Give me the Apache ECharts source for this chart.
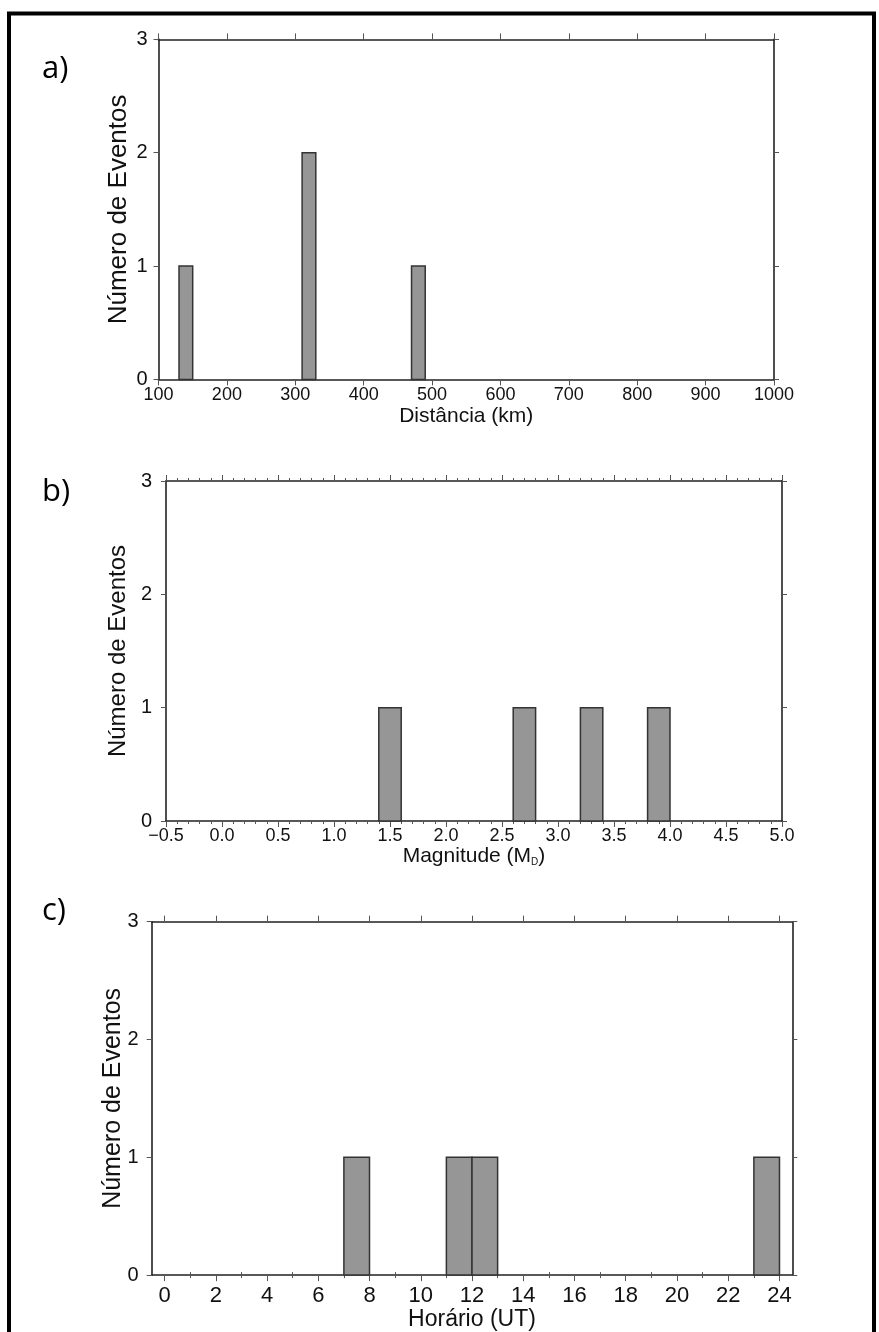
<!DOCTYPE html>
<html>
<head>
<meta charset="utf-8">
<title>Histogramas</title>
<script src="https://cdn.jsdelivr.net/npm/echarts/dist/echarts.min.js"></script>
<style>
  html, body { margin: 0; padding: 0; background: #fff; }
  #chart { width: 879px; height: 1332px; }
</style>
</head>
<body>
<div id="chart"></div>
<script>
// a) distancia
var distLeft = [130, 310, 470];
var distRight = [150, 330, 490];
var distCount = [1, 2, 1];
// b) magnitude
var magLeft = [1.4, 2.6, 3.2, 3.8];
var magRight = [1.6, 2.8, 3.4, 4.0];
var magCount = [1, 1, 1, 1];
// c) horario
var hourLeft = [7, 11, 12, 23];
var hourRight = [8, 12, 13, 24];
var hourCount = [1, 1, 1, 1];
var hourTicks = [0, 2, 4, 6, 8, 10, 12, 14, 16, 18, 20, 22, 24];
var hourMinorTicks = [1, 3, 5, 7, 9, 11, 13, 15, 17, 19, 21, 23];

var AX = "#222";
var TK = "#555";
var FONT = "Liberation Sans";

function toRows(l, r, c) {
    return l.map(function (v, i) { return [v, r[i], c[i]]; });
}

function renderBin(params, api) {
    var p0 = api.coord([api.value(0), 0]);
    var p1 = api.coord([api.value(1), api.value(2)]);
    return {
        type: "rect",
        shape: { x: p0[0], y: p1[1], width: p1[0] - p0[0], height: p0[1] - p1[1] },
        style: { fill: "#969696", stroke: "#333", lineWidth: 1.5 },
    };
}

function frameX(grid, pos, min, max, extra) {
    var ax = {
        type: "value",
        gridIndex: grid,
        position: pos,
        min: min,
        max: max,
        axisLine: { show: true, onZero: false, lineStyle: { color: AX, width: 1.6 } },
        axisTick: { show: true, inside: false, length: 6, lineStyle: { color: TK, width: 1 } },
        axisLabel: { show: false },
        splitLine: { show: false },
    };
    return Object.assign(ax, extra || {});
}

function frameY(grid, pos, labelMargin, nameSize, nameGap) {
    var ax = {
        type: "value",
        gridIndex: grid,
        position: pos,
        min: 0,
        max: 3,
        interval: 1,
        axisLine: { show: true, onZero: false, lineStyle: { color: AX, width: 1.6 } },
        axisTick: { show: true, inside: false, length: 5, lineStyle: { color: TK, width: 1 } },
        axisLabel: { show: false },
        splitLine: { show: false },
    };
    if (pos === "left") {
        ax.axisLabel = { show: true, fontFamily: FONT, fontSize: 20, color: "#111", margin: labelMargin };
        ax.name = "Número de Eventos";
        ax.nameLocation = "middle";
        ax.nameGap = nameGap;
        ax.nameMoveOverlap = false;
        ax.nameTextStyle = { fontFamily: FONT, fontSize: nameSize, color: "#111" };
    }
    return ax;
}

var chart = echarts.init(document.getElementById("chart"), null, { renderer: "canvas" });

var option = {
    backgroundColor: "#fff",
    animation: false,
    grid: [
        { left: 158.5, top: 39.4, width: 615.5, height: 340 },
        { left: 166, top: 481, width: 616, height: 340 },
        { left: 151.7, top: 921.7, width: 640.6, height: 356 },
    ],
    xAxis: [
        frameX(0, "bottom", 100, 1000, {
            interval: 100,
            axisLabel: {
                show: true, fontFamily: FONT, fontSize: 18, color: "#111", margin: 7,
                formatter: function (v) { return String(v); },
            },
            name: "Distância (km)",
            nameLocation: "middle",
            nameGap: 23,
            nameTextStyle: { fontFamily: FONT, fontSize: 21, color: "#111", verticalAlign: "top" },
        }),
        frameX(0, "top", 100, 1000, { interval: 100 }),
        frameX(1, "bottom", -0.5, 5, {
            interval: 0.5,
            minorTick: { show: true, splitNumber: 5, length: 3, lineStyle: { color: TK, width: 1 } },
            axisLabel: {
                show: true, fontFamily: FONT, fontSize: 18, color: "#111", margin: 6,
                formatter: function (v) { return v.toFixed(1).replace("-", "\u2212"); },
            },
            name: "Magnitude (M{sub|D})",
            nameLocation: "middle",
            nameGap: 17,
            nameTextStyle: {
                fontFamily: FONT, fontSize: 21, color: "#111", verticalAlign: "top",
                rich: { sub: { fontFamily: FONT, fontSize: 10, color: "#111", verticalAlign: "bottom", padding: [8, 0, 0, 0] } },
            },
        }),
        frameX(1, "top", -0.5, 5, {
            interval: 0.5,
            minorTick: { show: true, splitNumber: 5, length: 3, lineStyle: { color: TK, width: 1 } },
        }),
        frameX(2, "bottom", -0.5, 24.5, {
            axisTick: { show: true, length: 6, customValues: hourTicks, lineStyle: { color: TK, width: 1 } },
            axisLabel: { show: true, fontFamily: FONT, fontSize: 22, color: "#111", margin: 10, customValues: hourTicks },
            name: "Horário (UT)",
            nameLocation: "middle",
            nameGap: 31,
            nameTextStyle: { fontFamily: FONT, fontSize: 23, color: "#111", verticalAlign: "top" },
        }),
        frameX(2, "top", -0.5, 24.5, {
            axisTick: { show: true, length: 6, customValues: hourTicks, lineStyle: { color: TK, width: 1 } },
        }),
        // minor ticks (1 h)
        frameX(2, "bottom", -0.5, 24.5, {
            axisLine: { show: false },
            axisTick: { show: true, length: 3, customValues: hourMinorTicks, lineStyle: { color: TK, width: 1 } },
        }),
        frameX(2, "top", -0.5, 24.5, {
            axisLine: { show: false },
            axisTick: { show: true, length: 3, customValues: hourMinorTicks, lineStyle: { color: TK, width: 1 } },
        }),
    ],
    yAxis: [
        frameY(0, "left", 11, 26, 27),
        frameY(0, "right"),
        frameY(1, "left", 14, 24, 36),
        frameY(1, "right"),
        frameY(2, "left", 13, 25, 26),
        frameY(2, "right"),
    ],
    series: [
        { type: "custom", xAxisIndex: 0, yAxisIndex: 0, renderItem: renderBin, encode: { x: [0, 1], y: 2 }, data: toRows(distLeft, distRight, distCount) },
        { type: "custom", xAxisIndex: 2, yAxisIndex: 2, renderItem: renderBin, encode: { x: [0, 1], y: 2 }, data: toRows(magLeft, magRight, magCount) },
        { type: "custom", xAxisIndex: 4, yAxisIndex: 4, renderItem: renderBin, encode: { x: [0, 1], y: 2 }, data: toRows(hourLeft, hourRight, hourCount) },
    ],
    graphic: [
        { type: "rect", shape: { x: 9, y: 13.5, width: 865, height: 1340 }, style: { fill: "none", stroke: "#000", lineWidth: 4 }, silent: true },
        { type: "text", left: 42, top: 54, style: { text: "a)", font: "31px 'Open Sans'", fill: "#000" } },
        { type: "text", left: 42, top: 477, style: { text: "b)", font: "31px 'Open Sans'", fill: "#000" } },
        { type: "text", left: 42, top: 896, style: { text: "c)", font: "31px 'Open Sans'", fill: "#000" } },
    ],
};

chart.setOption(option);
</script>
</body>
</html>
